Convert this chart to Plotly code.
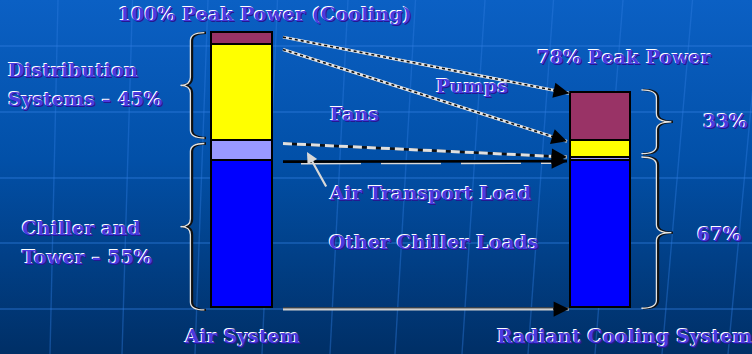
import base64
import plotly.graph_objects as go

# ---- data -------------------------------------------------------------
systems = ["Air System", "Radiant Cooling System"]
load_names = ["Other Chiller Loads", "Air Transport Load", "Fans", "Pumps"]
air_system = [53.5, 7.0, 35.0, 4.5]        # % of peak power, bottom to top
radiant_system = [53.5, 1.0, 6.0, 17.5]
load_colors = ["#0000FF", "#9999FF", "#FFFF00", "#993366"]
peak_labels = ["100% Peak Power (Cooling)", "78% Peak Power"]
group_labels_left = [["Distribution", "Systems – 45%"], ["Chiller and", "Tower – 55%"]]
group_labels_right = ["33%", "67%"]

# ---- canvas geometry ----------------------------------------------------
W, H = 752, 354
ZERO_PX = 307.7          # pixel row of the 0 % baseline
PX_PER_UNIT = 2.75       # pixels per percentage point
Y_TOP = ZERO_PX / PX_PER_UNIT
Y_BOT = -(H - ZERO_PX) / PX_PER_UNIT
BAR_X = [242.2, 601.0]
BAR_W = [61.0, 60.0]


def py(p):
    """pixel row -> y value"""
    return (ZERO_PX - p) / PX_PER_UNIT


def cum(vals):
    out, s = [], 0.0
    for v in vals:
        s += v
        out.append(s)
    return out


air_cum = cum(air_system)
rad_cum = cum(radiant_system)

# ---- background: blue gradient with a faint perspective grid -------------
grid = []
for yy in [46, 112, 178, 243, 309]:
    grid.append(f'<line x1="0" y1="{yy}" x2="{W}" y2="{yy}" stroke="#2f7ee0" stroke-opacity="0.5" stroke-width="1.6"/>')
for i, xb in enumerate([50, 122, 195, 262, 330, 395, 462, 528, 595, 662, 728]):
    tilt = 8 + i * 2.5
    grid.append(f'<line x1="{xb}" y1="{H}" x2="{xb + tilt}" y2="0" stroke="#2f7ee0" stroke-opacity="0.4" stroke-width="1.4"/>')
svg = (
    f'<svg xmlns="http://www.w3.org/2000/svg" width="{W}" height="{H}">'
    '<defs><linearGradient id="g" x1="0" y1="0" x2="0" y2="1">'
    '<stop offset="0" stop-color="#0b60c4"/><stop offset="0.45" stop-color="#0250a8"/>'
    '<stop offset="1" stop-color="#002f66"/></linearGradient></defs>'
    f'<rect width="{W}" height="{H}" fill="url(#g)"/>' + "".join(grid) + "</svg>"
)
bg_uri = "data:image/svg+xml;base64," + base64.b64encode(svg.encode()).decode()

fig = go.Figure()

# ---- stacked bars -------------------------------------------------------
for i, name in enumerate(load_names):
    fig.add_trace(go.Bar(
        x=BAR_X, y=[air_system[i], radiant_system[i]], width=BAR_W,
        name=name, marker=dict(color=load_colors[i], line=dict(color="black", width=1.6)),
        showlegend=False, hoverinfo="skip",
    ))

# ---- connecting arrows --------------------------------------------------
X0, X1 = 283, 567


def striped(xa, ya, xb, yb, base, top, dash, wb=3.0, wt=1.6):
    fig.add_trace(go.Scatter(x=[xa, xb], y=[ya, yb], mode="lines",
                             line=dict(color=base, width=wb), showlegend=False, hoverinfo="skip"))
    fig.add_trace(go.Scatter(x=[xa, xb], y=[ya, yb], mode="lines",
                             line=dict(color=top, width=wt, dash=dash), showlegend=False, hoverinfo="skip"))


def head(xb, yb, xa, ya, color="black"):
    # short annotation arrow pointing at (xb, yb) along the segment direction
    fx = xb - (xb - xa) * 0.06
    fy = yb - (yb - ya) * 0.06
    fig.add_annotation(x=xb, y=yb, ax=fx, ay=fy, xref="x", yref="y", axref="x", ayref="y",
                       text="", showarrow=True, arrowhead=2, arrowsize=1.4, arrowwidth=2.2,
                       arrowcolor=color, standoff=0)


# pumps: top of left stack -> top of right stack
p0 = (X0, air_cum[3] - 1.6, X1 + 2, rad_cum[3])
striped(*p0, "#e6e6e6", "#111111", "3px,3px")
head(p0[2], p0[3], p0[0], p0[1])
# fans: top of fans block -> top of fans block
f0 = (X0, air_cum[2] - 1.6, X1, rad_cum[2])
striped(*f0, "#e6e6e6", "#111111", "3px,3px")
head(f0[2], f0[3], f0[0], f0[1])
# air transport load (dashed)
a0 = (X0, air_cum[1] - 0.8, X1, rad_cum[1] + 0.3)
striped(*a0, "#111111", "#e0e0e0", "9px,5px", wb=2.4, wt=3.0)
head(a0[2], a0[3], a0[0], a0[1])
# other chiller loads
c0 = (X0, air_cum[0] - 0.4, X1, rad_cum[0] - 0.2)
fig.add_trace(go.Scatter(x=[X0 + 18, X1 - 6], y=[c0[1] - 0.7, c0[3] - 0.7], mode="lines",
                         line=dict(color="#d8d8d8", width=1.8, dash="60px,20px"),
                         showlegend=False, hoverinfo="skip"))
fig.add_trace(go.Scatter(x=[c0[0], c0[2]], y=[c0[1], c0[3]], mode="lines",
                         line=dict(color="black", width=2.6), showlegend=False, hoverinfo="skip"))
head(c0[2], c0[3], c0[0], c0[1])
# baseline arrow
b0 = (X0, -0.5, X1 + 2, -0.5)
fig.add_trace(go.Scatter(x=[b0[0], b0[2]], y=[b0[1], b0[3]], mode="lines",
                         line=dict(color="#d0d0d0", width=3), showlegend=False, hoverinfo="skip"))
fig.add_trace(go.Scatter(x=[b0[0], b0[2]], y=[b0[1] + 0.45, b0[3] + 0.45], mode="lines",
                         line=dict(color="#222222", width=1), showlegend=False, hoverinfo="skip"))
head(b0[2], b0[3], b0[0], b0[1])

# leader from "Air Transport Load" label to its arrow
fig.add_annotation(x=307, y=py(152), ax=327, ay=py(188), xref="x", yref="y", axref="x", ayref="y",
                   text="", showarrow=True, arrowhead=2, arrowsize=1.0, arrowwidth=2.2,
                   arrowcolor="#d8d8d8", standoff=0)

# ---- curly braces -------------------------------------------------------
R = 8 / PX_PER_UNIT


def brace_path(tip, line, point, top, bot, dx=0.0):
    mid = (top + bot) / 2
    t, l, p = tip + dx, line + dx, point + dx
    return (f"M {t},{top} Q {l},{top} {l},{top - R} L {l},{mid + R} "
            f"Q {l},{mid} {p},{mid} Q {l},{mid} {l},{mid - R} "
            f"L {l},{bot + R} Q {l},{bot} {t},{bot}")


def brace(tip, line, point, top, bot):
    fig.add_shape(type="path", path=brace_path(tip, line, point, top, bot, 1.0),
                  xref="x", yref="y", line=dict(color="#101010", width=2.4))
    fig.add_shape(type="path", path=brace_path(tip, line, point, top, bot, -0.6),
                  xref="x", yref="y", line=dict(color="#e4e4e4", width=1.3))


brace(205, 191, 181, air_cum[3], air_cum[1] + 1.2)
brace(205, 191, 181, air_cum[1] - 0.8, -0.8)
brace(642, 657, 672, rad_cum[3] + 1.2, rad_cum[1] + 1.5)
brace(642, 657, 672, rad_cum[1] + 0.3, -0.2)

# ---- text ---------------------------------------------------------------
TXT = dict(family="DejaVu Serif", size=19, color="#4a3ae0", weight="bold",
           shadow="-1px -1px 0px #ffffff, 1px 1px 0px #241890")


def label(x, ypx, text, xanchor="center"):
    fig.add_annotation(x=x, y=py(ypx), xref="x", yref="y", text=text, showarrow=False,
                       xanchor=xanchor, yanchor="middle", font=TXT)


label(265, 14, peak_labels[0])
label(624, 57, peak_labels[1])
label(6, 70, group_labels_left[0][0], xanchor="left")
label(6, 99, group_labels_left[0][1], xanchor="left")
label(20, 228, group_labels_left[1][0], xanchor="left")
label(20, 257, group_labels_left[1][1], xanchor="left")
label(725, 121, group_labels_right[0])
label(719, 234, group_labels_right[1])
label(472, 86, load_names[3])
label(354, 114, load_names[2])
label(430, 193, load_names[1])
label(433, 242, load_names[0])
label(BAR_X[0], 336, systems[0])
label(625, 336, systems[1])

fig.update_layout(
    width=W, height=H, margin=dict(l=0, r=0, t=0, b=0),
    barmode="stack", bargap=0,
    paper_bgcolor="#00408a", plot_bgcolor="rgba(0,0,0,0)",
    xaxis=dict(range=[0, W], visible=False, fixedrange=True),
    yaxis=dict(range=[Y_BOT, Y_TOP], visible=False, fixedrange=True),
    images=[dict(source=bg_uri, xref="paper", yref="paper", x=0, y=1, sizex=1, sizey=1,
                 sizing="stretch", layer="below", xanchor="left", yanchor="top")],
)

fig.write_html("out.html")
